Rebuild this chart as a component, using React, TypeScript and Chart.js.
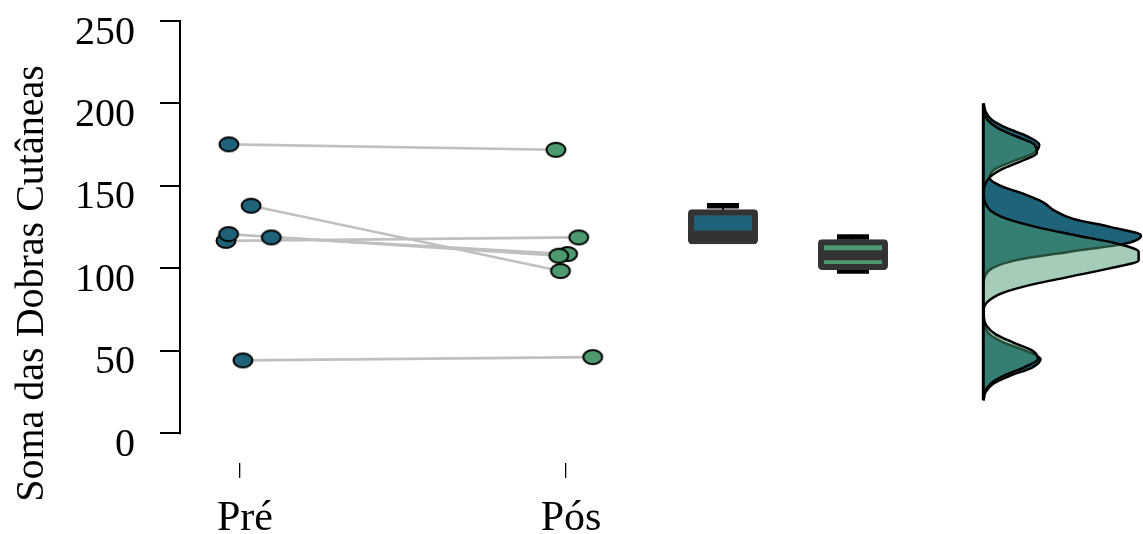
import React, { useEffect, useRef } from 'react';
import { Chart, registerables } from 'chart.js';

Chart.register(...registerables);

// ---------- data ----------
const categories = ['Pré', 'Pós'];
const yTicks = [0, 50, 100, 150, 200, 250];
const yTitle = 'Soma das Dobras Cutâneas';

// paired observations (same index = same subject)
const preValues = [175.2, 138, 116.7, 118.8, 120.8, 44.2];
const posValues = [171.9, 98.4, 118.8, 108.7, 107.7, 46.2];
// horizontal jitter of each point (x-axis units, Pré = 1, Pós = 2)
const preJitterX = [0.966, 1.034, 0.957, 1.096, 0.965, 1.009];
const posJitterX = [1.969, 1.983, 2.039, 2.005, 1.978, 2.082];

// boxplot statistics [Pré, Pós]
const boxLow = [116.5, 98.4];
const boxQ1 = [116.5, 100.8];
const boxMedian = [120, 108];
const boxQ3 = [134, 115.8];
const boxHigh = [138, 119];

// density (relative, peak = 1) read at these levels of the y axis
const densityLevels = [20, 25, 30, 35, 40, 45, 50, 55, 60, 65, 70, 75, 80, 85, 90, 95, 100, 105, 110, 115, 120, 125, 130, 135, 140, 145, 150, 155, 160, 165, 170, 175, 180, 185, 190, 195, 200];
const preDensity = [0.002, 0.014, 0.061, 0.172, 0.312, 0.363, 0.27, 0.13, 0.04, 0.008, 0.001, 0, 0, 0, 0.001, 0.009, 0.054, 0.21, 0.54, 0.9, 1.0, 0.81, 0.57, 0.45, 0.38, 0.26, 0.11, 0.04, 0.07, 0.19, 0.32, 0.355, 0.28, 0.15, 0.055, 0.015, 0.003];
const posDensity = [0.002, 0.01, 0.045, 0.131, 0.259, 0.346, 0.313, 0.191, 0.079, 0.022, 0.004, 0.003, 0.03, 0.12, 0.3, 0.55, 0.8, 0.985, 0.985, 0.85, 0.59, 0.34, 0.15, 0.047, 0.011, 0.002, 0.008, 0.038, 0.116, 0.241, 0.34, 0.325, 0.21, 0.092, 0.027, 0.005, 0.001];

// ---------- layout / style ----------
const X_MIN = 0.816;
const X_MAX = 3.77;
const BOX_POS = [2.4816, 2.8804];
const XD_MIN = -5.094;
const XD_MAX = 1.0127;
const Y_MIN = -18;
const Y_MAX = 250;

const PRE_COLOR = '#1e6379';
const POS_COLOR = '#4c9a6d';
const POS_FILL = 'rgba(76,154,109,0.5)';
const BOX_DARK = '#333333';
const FONT = 'Liberation Serif';

function makeMarker(color: string) {
  const c = document.createElement('canvas');
  c.width = 24;
  c.height = 20;
  const g = c.getContext('2d')!;
  g.beginPath();
  g.ellipse(12, 10, 9.5, 7, 0, 0, Math.PI * 2);
  g.fillStyle = color;
  g.fill();
  g.lineWidth = 2;
  g.strokeStyle = '#000';
  g.stroke();
  return c;
}

const axisDecorPlugin = {
  id: 'axisDecor',
  afterDraw(chart: any) {
    const ctx = chart.ctx;
    const ys = chart.scales.y;
    ctx.save();
    ctx.strokeStyle = '#000';
    ctx.lineWidth = 2;
    ctx.beginPath();
    const x = chart.chartArea.left;
    ctx.moveTo(x, ys.getPixelForValue(yTicks[0]) + 1);
    ctx.lineTo(x, ys.getPixelForValue(yTicks[yTicks.length - 1]) - 1);
    ctx.stroke();
    ctx.translate(43, 283.5);
    ctx.rotate(-Math.PI / 2);
    ctx.font = `40px "${FONT}"`;
    ctx.fillStyle = '#000';
    ctx.textAlign = 'center';
    ctx.textBaseline = 'alphabetic';
    ctx.fillText(yTitle, 0, 0);
    ctx.restore();
  },
};

export default function App() {
  const ref = useRef<HTMLCanvasElement | null>(null);

  useEffect(() => {
    if (!ref.current) return;
    const preMarker = makeMarker(PRE_COLOR);
    const posMarker = makeMarker(POS_COLOR);

    const connectors = preValues.map((v, i) => ({
      type: 'line',
      xAxisID: 'x',
      yAxisID: 'y',
      data: [
        { x: preJitterX[i], y: v },
        { x: posJitterX[i], y: posValues[i] },
      ],
      borderColor: '#c0c0c0',
      borderWidth: 2.6,
      pointRadius: 0,
      order: 100,
    }));

    const stems = categories.flatMap((_, i) => [
      {
        type: 'line',
        xAxisID: 'x',
        yAxisID: 'y',
        data: [
          { x: BOX_POS[i], y: boxQ3[i] },
          { x: BOX_POS[i], y: boxHigh[i] },
        ],
        borderColor: '#000',
        borderWidth: 2,
        pointRadius: 0,
        order: 70,
      },
      {
        type: 'line',
        xAxisID: 'x',
        yAxisID: 'y',
        data: [
          { x: BOX_POS[i], y: boxQ1[i] },
          { x: BOX_POS[i], y: boxLow[i] },
        ],
        borderColor: '#000',
        borderWidth: 2,
        pointRadius: 0,
        order: 70,
      },
    ]);

    const datasets: any[] = [
      ...connectors,
      {
        type: 'line',
        label: 'Pré',
        xAxisID: 'x',
        yAxisID: 'y',
        showLine: false,
        data: preValues.map((v, i) => ({ x: preJitterX[i], y: v })),
        pointStyle: preMarker,
        pointRadius: 10,
        order: 90,
      },
      {
        type: 'line',
        label: 'Pós',
        xAxisID: 'x',
        yAxisID: 'y',
        showLine: false,
        data: posValues.map((v, i) => ({ x: posJitterX[i], y: v })),
        pointStyle: posMarker,
        pointRadius: 10,
        order: 89,
      },
      {
        type: 'line',
        indexAxis: 'y',
        xAxisID: 'xd',
        yAxisID: 'y',
        data: densityLevels.map((y, i) => ({ x: preDensity[i], y })),
        fill: 'origin',
        backgroundColor: PRE_COLOR,
        borderColor: '#000',
        borderWidth: 2.5,
        pointRadius: 0,
        cubicInterpolationMode: 'monotone',
        clip: false,
        order: 80,
      },
      {
        type: 'line',
        indexAxis: 'y',
        xAxisID: 'xd',
        yAxisID: 'y',
        data: densityLevels.map((y, i) => ({ x: posDensity[i], y })),
        fill: 'origin',
        backgroundColor: POS_FILL,
        borderColor: '#000',
        borderWidth: 2.5,
        pointRadius: 0,
        cubicInterpolationMode: 'monotone',
        clip: false,
        order: 79,
      },
      {
        type: 'line',
        indexAxis: 'y',
        xAxisID: 'xd',
        yAxisID: 'y',
        data: [
          { x: 0, y: densityLevels[0] },
          { x: 0, y: densityLevels[densityLevels.length - 1] },
        ],
        borderColor: '#000',
        borderWidth: 3,
        pointRadius: 0,
        order: 78,
      },
      ...stems,
      {
        type: 'line',
        xAxisID: 'x',
        yAxisID: 'y',
        showLine: false,
        data: [
          ...categories.map((_, i) => ({ x: BOX_POS[i], y: boxHigh[i] })),
          ...categories.map((_, i) => ({ x: BOX_POS[i], y: boxLow[i] })),
        ],
        pointStyle: 'line',
        pointRadius: 16,
        pointBorderWidth: 5.5,
        pointBorderColor: '#000',
        order: 69,
      },
      {
        type: 'bar',
        xAxisID: 'x',
        yAxisID: 'y',
        data: categories.map((_, i) => ({ x: BOX_POS[i], y: [boxQ1[i], boxQ3[i]] })),
        backgroundColor: [PRE_COLOR, POS_COLOR],
        borderColor: BOX_DARK,
        borderWidth: 6,
        inflateAmount: 3,
        borderRadius: 4,
        borderSkipped: false,
        barThickness: 64,
        grouped: false,
        order: 60,
      },
      {
        type: 'line',
        xAxisID: 'x',
        yAxisID: 'y',
        showLine: false,
        data: categories.map((_, i) => ({ x: BOX_POS[i], y: boxMedian[i] })),
        pointStyle: 'line',
        pointRadius: 32,
        pointBorderWidth: 10,
        pointBorderColor: BOX_DARK,
        order: 50,
      },
    ];

    const chart = new Chart(ref.current, {
      type: 'line',
      data: { datasets },
      options: {
        animation: false,
        responsive: false,
        devicePixelRatio: 1,
        events: [],
        layout: { autoPadding: false, padding: { top: 21, left: 0, right: 0, bottom: 0 } },
        plugins: { legend: { display: false }, tooltip: { enabled: false } },
        scales: {
          x: {
            type: 'linear',
            position: 'bottom',
            offset: false,
            min: X_MIN,
            max: X_MAX,
            afterBuildTicks: (s: any) => {
              s.ticks = categories.map((_, i) => ({ value: i + 1 }));
            },
            afterFit: (s: any) => {
              s.height = 71;
              s.paddingLeft = 0;
              s.paddingRight = 0;
            },
            ticks: {
              callback: (v: any) => categories[Math.round(v) - 1] ?? '',
              font: { family: FONT, size: 42 },
              color: '#000',
              padding: 16,
              labelOffset: 5,
              autoSkip: false,
              maxRotation: 0,
            },
            grid: { offset: false, drawOnChartArea: false, drawTicks: true, tickLength: 15, color: '#000', lineWidth: 1.3 },
            border: { display: false },
          },
          xd: {
            type: 'linear',
            position: 'bottom',
            display: false,
            offset: false,
            min: XD_MIN,
            max: XD_MAX,
          },
          y: {
            type: 'linear',
            position: 'left',
            min: Y_MIN,
            max: Y_MAX,
            afterBuildTicks: (s: any) => {
              s.ticks = yTicks.map((v) => ({ value: v }));
            },
            afterFit: (s: any) => {
              s.width = 180;
              s.paddingTop = 0;
              s.paddingBottom = 0;
            },
            ticks: {
              font: { family: FONT, size: 40 },
              color: '#000',
              padding: 25,
              labelOffset: 12,
              autoSkip: false,
            },
            grid: { drawOnChartArea: false, drawTicks: true, tickLength: 20, color: '#000', lineWidth: 2 },
            border: { display: false },
          },
        },
      } as any,
      plugins: [axisDecorPlugin],
    } as any);

    return () => chart.destroy();
  }, []);

  return (
    <div style={{ position: 'absolute', left: 0, top: 0, width: 1143, height: 534, background: '#fff' }}>
      <canvas ref={ref} width={1143} height={534} style={{ display: 'block' }} />
    </div>
  );
}
